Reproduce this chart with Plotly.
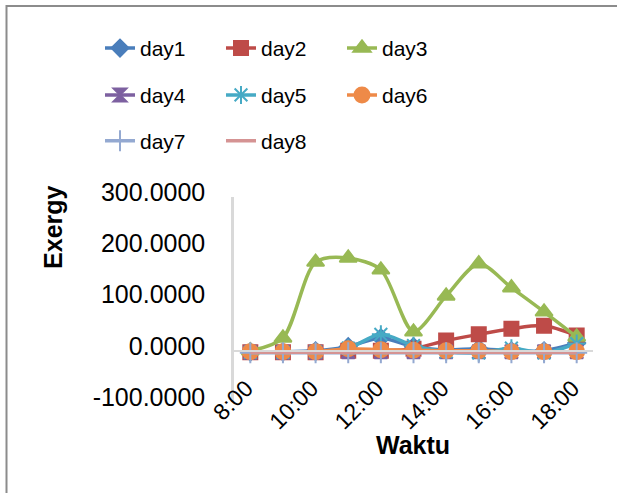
import plotly.graph_objects as go

times = ["8:00", "9:00", "10:00", "11:00", "12:00", "13:00",
         "14:00", "15:00", "16:00", "17:00", "18:00"]
x_tick_labels = ["8:00", "10:00", "12:00", "14:00", "16:00", "18:00"]
y_tick_values = [-100, 0, 100, 200, 300]
y_tick_labels = ["-100.0000", "0.0000", "100.0000", "200.0000", "300.0000"]

day1 = [-2, -2, 0, 8, 25, 8, 2, 4, 0, 0, 15]
day2 = [-3, -3, -3, 0, 0, 4, 20, 32, 43, 49, 30]
day3 = [0, 25, 173, 181, 158, 37, 107, 170, 123, 76, 27]
day4 = [-3, -3, -3, -2, -2, -2, -2, -2, -2, -2, -2]
day5 = [-3, -3, -2, 5, 32, 10, -2, -4, 5, -4, 14]
day6 = [-2, -2, -2, 4, 2, 1, 0, 0, -2, -2, -2]
day7 = [-4, -4, -4, -4, -4, -4, -4, -4, -4, -4, -4]
day8 = [-3, -3, -3, -3, -3, -3, -3, -3, -3, -3, -3]

series = [
    ("day1", day1, "#4A7EBB", "diamond", 13, "legend"),
    ("day2", day2, "#BE4B48", "square", 14, "legend"),
    ("day3", day3, "#98B954", "triangle-up", 15, "legend"),
    ("day4", day4, "#7D60A0", "hourglass", 13, "legend2"),
    ("day5", day5, "#46AAC5", "asterisk-open", 15, "legend2"),
    ("day6", day6, "#EE8A48", "circle", 15, "legend2"),
    ("day7", day7, "#94A9D1", "cross-thin-open", 15, "legend3"),
    ("day8", day8, "#D59393", None, 0, "legend3"),
]

FONT = "Liberation Sans, Arial"
W, H = 617, 493
L, R, T, B = 234, 24, 197, 90.5
pw, ph = W - L - R, H - T - B

def px_x(p):
    return (p - L) / pw

def px_y(p):
    return (H - B - p) / ph

fig = go.Figure()
for name, vals, col, sym, size, leg in series:
    if sym is None:
        mode = "lines"
        marker = None
    else:
        mode = "lines+markers"
        marker = dict(symbol=sym, size=size, color=col,
                      line=dict(color=col, width=2))
    fig.add_trace(go.Scatter(
        x=times, y=vals, name=name, mode=mode,
        line=dict(color=col, width=3.5, shape="spline", smoothing=0.8),
        marker=marker, legend=leg,
    ))

ymin, ymax = -100, 300
zero_frac = (0 - ymin) / (ymax - ymin)

legend_common = dict(orientation="h", font=dict(family=FONT, size=21, color="#000000"),
                     entrywidth=76, entrywidthmode="pixels", xanchor="left", yanchor="middle",
                     bgcolor="rgba(0,0,0,0)", itemwidth=30, tracegroupgap=0)

fig.update_layout(
    width=W, height=H,
    margin=dict(l=L, r=R, t=T, b=B),
    paper_bgcolor="white", plot_bgcolor="white",
    font=dict(family=FONT, color="#000000"),
    legend=dict(x=px_x(100), y=px_y(48), **legend_common),
    legend2=dict(x=px_x(100), y=px_y(95), **legend_common),
    legend3=dict(x=px_x(100), y=px_y(141), **legend_common),
    xaxis=dict(
        type="category", range=[-0.5, len(times) - 0.5],
        tickmode="array", tickvals=x_tick_labels, ticktext=x_tick_labels,
        tickangle=-45, tickfont=dict(size=23, family=FONT, color="#000000"),
        showline=True, linecolor="#D9D9D9", linewidth=2,
        showgrid=False, zeroline=False, ticks="",
        anchor="free", position=zero_frac, automargin=False,
        ticklabelstandoff=14, ticklabelshift=-4,
    ),
    yaxis=dict(
        range=[ymin, ymax], tickmode="array", tickvals=y_tick_values, ticktext=y_tick_labels,
        tickfont=dict(size=25, family=FONT, color="#000000"),
        showline=True, linecolor="#D9D9D9", linewidth=2.5,
        showgrid=False, zeroline=False, ticks="",
        ticklabelstandoff=21, ticklabelshift=-5, automargin=False,
    ),
    annotations=[
        dict(text="<b>Exergy</b>", xref="paper", yref="paper", x=px_x(53), y=px_y(227),
             xanchor="center", yanchor="middle", textangle=-90, showarrow=False,
             font=dict(size=25, family=FONT, color="#000000")),
        dict(text="<b>Waktu</b>", xref="paper", yref="paper", x=px_x(413), y=px_y(446),
             xanchor="center", yanchor="middle", showarrow=False,
             font=dict(size=25, family=FONT, color="#000000")),
    ],
    shapes=[dict(type="rect", xref="paper", yref="paper",
                 x0=px_x(6.5), x1=px_x(640), y0=px_y(520), y1=px_y(5.5),
                 line=dict(color="#8C8C8C", width=2), fillcolor="rgba(0,0,0,0)", layer="below")],
)

fig.write_html("out.html", config={"displayModeBar": False},
               post_script="document.body.style.margin='0px';document.body.style.overflow='hidden';")
